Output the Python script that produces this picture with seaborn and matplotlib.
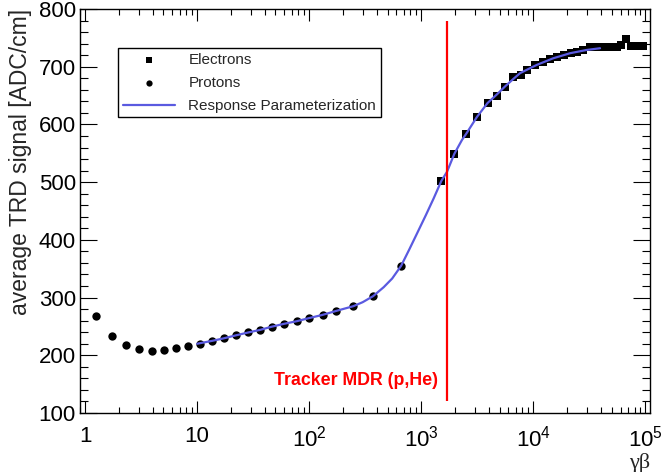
import matplotlib
matplotlib.use("Agg")
import matplotlib.pyplot as plt
import seaborn as sns
from matplotlib.ticker import FixedLocator, MultipleLocator, LogLocator, NullFormatter, FixedFormatter

# ---------------- data ----------------
proton_gb = [1.25, 1.74, 2.32, 3.05, 3.93, 5.05, 6.46, 8.32, 10.6, 13.6, 17.4, 22.1,
             28.5, 36.4, 46.2, 59.5, 77.2, 100, 131.5, 175, 247, 372, 661]
proton_sig = [268.6, 234, 218, 210.5, 208, 209.7, 212, 216, 220, 225, 229.5, 235,
              240, 244, 249.5, 255, 259.5, 264.5, 270.5, 277, 285, 302.8, 355]

electron_gb = [1510, 1972, 2522, 3141, 3901, 4730, 5607, 6651, 7787, 8856, 10370,
               12140, 14100, 16390, 18800, 21570, 24700, 27930, 32040, 36760, 42100,
               48300, 55400, 60100, 67000, 74300, 83500, 94400]
electron_sig = [502.6, 549.4, 583.0, 613.5, 636.7, 648.9, 665.6, 681.5, 685.8, 694.5,
                702.3, 708.4, 713.1, 717.5, 720.0, 723.4, 725.6, 729.1, 733.4, 734.3,
                733.8, 733.8, 733.8, 738.3, 747.6, 735.4, 736.6, 735.4]

fit_gb = [10, 13.6, 17.4, 22.1, 28.5, 36.4, 46.2, 59.5, 77.2, 100, 131.5, 175, 247,
          300, 372, 462, 550, 661, 780, 916, 1100, 1291, 1510, 1698, 1972, 2307,
          2522, 3141, 3901, 4730, 5607, 6651, 7640, 10700, 15000, 21300, 29900, 39400]
fit_sig = [220, 225, 229.5, 234.5, 239.5, 244, 249.5, 254.5, 259, 264.5, 270, 277, 285,
           292, 302.5, 318, 333, 355, 383, 411, 443, 472, 502, 518, 549, 573,
           584, 613, 637, 652, 666, 679, 689, 703, 714.5, 723.4, 729, 732]

mdr_gb = 1700
mdr_span = [120, 780]
mdr_label = "Tracker MDR (p,He)"
mdr_label_pos = [1410, 157]

x_ticks = [1, 10, 100, 1000, 10000, 100000]
x_tick_labels = ["1", "10", r"$\mathregular{10^{2}}$", r"$\mathregular{10^{3}}$",
                 r"$\mathregular{10^{4}}$", r"$\mathregular{10^{5}}$"]
y_ticks = [100, 200, 300, 400, 500, 600, 700, 800]

# ---------------- style ----------------
sns.set_style("ticks")
plt.rcParams["font.family"] = ["Liberation Sans", "DejaVu Sans"]
plt.rcParams["mathtext.fontset"] = "custom"
plt.rcParams["mathtext.rm"] = "Liberation Sans"
plt.rcParams["mathtext.it"] = "Liberation Sans:italic"
plt.rcParams["mathtext.bf"] = "Liberation Sans:bold"

fig = plt.figure(figsize=(6.63, 4.72), dpi=100)
ax = fig.add_axes([80 / 663, 59 / 472, 570 / 663, 404 / 472])
ax.set_xscale("log")

sns.scatterplot(x=electron_gb, y=electron_sig, marker="s", color="black", s=30,
                linewidth=0, ax=ax, label="Electrons", zorder=2)
sns.scatterplot(x=proton_gb, y=proton_sig, marker="o", color="black", s=36,
                linewidth=0, ax=ax, label="Protons", zorder=2)
sns.lineplot(x=fit_gb, y=fit_sig, color="#5a5ae0", lw=1.6, ax=ax,
             label="Response Parameterization", zorder=3)

ax.vlines(mdr_gb, mdr_span[0], mdr_span[1], color="#ff0000", lw=1.6, zorder=4)
ax.text(mdr_label_pos[0], mdr_label_pos[1], mdr_label, color="#ff0000",
        fontsize=12.8, fontweight="bold", ha="right", va="center")

ax.set_xlim(0.9, 1.1e5)
ax.set_ylim(100, 800)

ax.xaxis.set_major_locator(FixedLocator(x_ticks))
ax.xaxis.set_major_formatter(FixedFormatter(x_tick_labels))
ax.xaxis.set_minor_locator(LogLocator(base=10, subs=range(2, 10), numticks=20))
ax.xaxis.set_minor_formatter(NullFormatter())
ax.yaxis.set_major_locator(FixedLocator(y_ticks))
ax.yaxis.set_minor_locator(MultipleLocator(20))

ax.tick_params(which="both", direction="in", top=True, right=True, width=0.8,
               colors="black")
ax.tick_params(axis="y", which="major", length=12, labelsize=16, pad=3)
ax.tick_params(axis="y", which="minor", length=6)
ax.tick_params(axis="x", which="major", length=8.5, labelsize=16, pad=9)
ax.tick_params(axis="x", which="minor", length=4.3)
for sp in ax.spines.values():
    sp.set_linewidth(1.0)
    sp.set_color("black")

ax.set_ylabel("average TRD signal [ADC/cm]", fontsize=16.5, loc="top", labelpad=5)
ax.set_xlabel("γβ", fontsize=16, loc="right", labelpad=1,
              family=["Liberation Serif", "DejaVu Serif"])

leg = ax.legend(loc="upper left", bbox_to_anchor=(0.0667, 0.9035), frameon=True,
                fancybox=False, edgecolor="black", framealpha=1, fontsize=11,
                borderpad=0.3, labelspacing=0.6, handlelength=3.4,
                handletextpad=0.9, borderaxespad=0, markerscale=0.75)
leg.get_frame().set_linewidth(1.0)

fig.savefig("out.png", dpi=100)
